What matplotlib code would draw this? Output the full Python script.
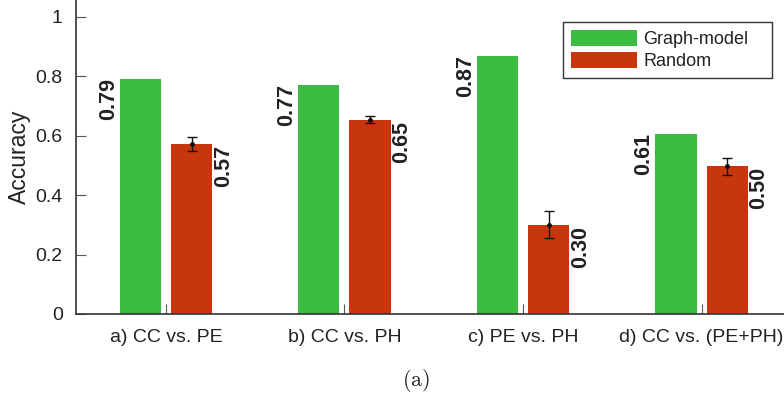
import matplotlib
matplotlib.use('Agg')
import matplotlib.pyplot as plt
from matplotlib.patches import Rectangle
from matplotlib.legend_handler import HandlerPatch
import numpy as np

groups = ['a) CC vs. PE', 'b) CC vs. PH', 'c) PE vs. PH', 'd) CC vs. (PE+PH)']
graph_acc = [0.79, 0.77, 0.87, 0.606]
random_acc = [0.572, 0.653, 0.30, 0.498]
random_lo = [0.549, 0.642, 0.255, 0.469]
random_hi = [0.596, 0.667, 0.346, 0.524]
series_names = ['Graph-model', 'Random']

GREEN = '#3cbb42'
RED = '#c8360e'
TXT = '#222222'

plt.rcParams['font.family'] = ['Liberation Sans', 'DejaVu Sans']
plt.rcParams['mathtext.fontset'] = 'cm'

fig = plt.figure(figsize=(7.84, 3.98), dpi=100)
ax = fig.add_axes([76 / 784, 1 - 314 / 398, 1 - 76 / 784, 314 / 398])

x = np.arange(len(groups))
w = 0.23
off = 0.143
graph_acc = np.array(graph_acc)
random_acc = np.array(random_acc)
ax.bar(x - off, graph_acc, w, color=GREEN, label=series_names[0], zorder=2)
ax.bar(x + off, random_acc, w, color=RED, label=series_names[1], zorder=2)
err = [random_acc - np.array(random_lo), np.array(random_hi) - random_acc]
ax.errorbar(x + off, random_acc, yerr=err, fmt='o', color='#111111', markersize=2.5,
            elinewidth=1.0, capsize=3.8, capthick=1.0, zorder=3)

for xi, v in zip(x, graph_acc):
    ax.annotate(f'{v:.2f}', (xi - off - w / 2, v), xytext=(-1, 1), textcoords='offset pixels',
                rotation=90, ha='right', va='top', fontsize=15.5, fontweight='bold', color=TXT)
for xi, v in zip(x, random_acc):
    ax.annotate(f'{v:.2f}', (xi + off + w / 2, v), xytext=(1, -1), textcoords='offset pixels',
                rotation=90, ha='left', va='top', fontsize=15.5, fontweight='bold', color=TXT)

ax.set_xlim(-0.504, 3.462)
ax.set_ylim(0, 1.057)
ax.set_yticks([0, 0.2, 0.4, 0.6, 0.8, 1.0])
ax.set_yticklabels(['0', '0.2', '0.4', '0.6', '0.8', '1'])
ax.set_xticks(x)
ax.set_xticklabels(groups)
ax.tick_params(axis='both', direction='in', labelsize=14, labelcolor=TXT, color='#555555')
ax.tick_params(axis='y', length=7, pad=9.5)
ax.tick_params(axis='x', length=7, pad=10.5)
ax.set_ylabel('Accuracy', fontsize=16.5, color=TXT, labelpad=3.5)
for s in ['top', 'right']:
    ax.spines[s].set_visible(False)
for s in ['left', 'bottom']:
    ax.spines[s].set_color('#333333')
    ax.spines[s].set_linewidth(1.2)


def inset_patch(legend, orig_handle, xdescent, ydescent, width, height, fontsize):
    dx = 5
    return Rectangle((-xdescent + dx, -ydescent), width - dx, height)


leg = ax.legend(loc='upper left', bbox_to_anchor=(0.688, 0.5, 0.295, 0.43), mode='expand',
                borderaxespad=0, fontsize=13, fancybox=False, handlelength=3.65,
                handleheight=1.0, labelspacing=0.2, handletextpad=0.35, borderpad=0.45,
                framealpha=1, handler_map={Rectangle: HandlerPatch(patch_func=inset_patch)})
leg.get_frame().set_edgecolor('#333333')
leg.get_frame().set_linewidth(1.0)
for t in leg.get_texts():
    t.set_color(TXT)

fig.text(416 / 784, 1 - 381 / 398, r'$\mathrm{(a)}$', ha='center', va='center', fontsize=16, color=TXT)

fig.savefig('out.png', dpi=100)
